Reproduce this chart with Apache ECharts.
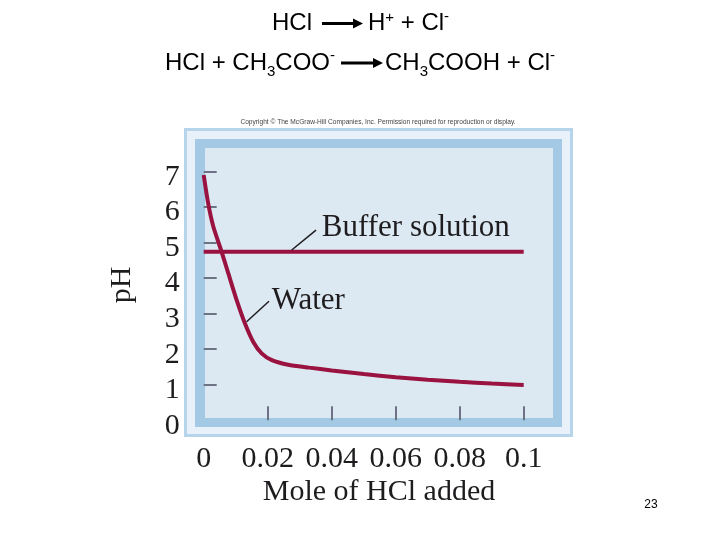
<!DOCTYPE html>
<html><head><meta charset="utf-8">
<script src="https://cdn.jsdelivr.net/npm/echarts@6/dist/echarts.min.js"></script>
<style>html,body{margin:0;padding:0;background:#fff}#c{width:720px;height:540px}</style>
</head><body><div id="c"></div>
<script>
// ---- data ----
const xTickValues = [0.02, 0.04, 0.06, 0.08, 0.1];
const xLabelValues = [0, 0.02, 0.04, 0.06, 0.08, 0.1];
const yTickValues = [1, 2, 3, 4, 5, 6, 7];
const yLabelValues = [0, 1, 2, 3, 4, 5, 6, 7];
const bufferX = [0, 0.1];
const bufferPH = [4.74, 4.74];
const waterX = [0, 0.0014, 0.003, 0.0056, 0.0077, 0.0103, 0.0129, 0.0155, 0.0181, 0.0213, 0.0264, 0.033, 0.04, 0.05, 0.06, 0.07, 0.08, 0.09, 0.1];
const waterPH = [6.9, 6.1, 5.45, 4.74, 4.13, 3.38, 2.72, 2.2, 1.88, 1.69, 1.56, 1.48, 1.4, 1.3, 1.21, 1.14, 1.08, 1.03, 0.99];
const seriesNames = ['Buffer solution', 'Water'];
const xName = 'Mole of HCl added';
const yName = 'pH';

const SERIF = '"Liberation Serif", "DejaVu Serif", serif';
const SANS = '"Liberation Sans", Arial, sans-serif';
const INK = '#1e1c1e';
const LINE = '#9a1340';

const chart = echarts.init(document.getElementById('c'), null, {renderer: 'canvas'});

const zip = (a, b) => a.map((v, i) => [v, b[i]]);

chart.setOption({
  animation: false,
  grid: {left: 203.7, right: 196.3, top: 171.5, bottom: 119.8, containLabel: false},
  xAxis: {
    type: 'value', min: 0, max: 0.1, interval: 0.02,
    axisLine: {show: false}, splitLine: {show: false},
    axisTick: {show: true, inside: true, length: 14, customValues: xTickValues,
      lineStyle: {color: '#6c7484', width: 2}},
    axisLabel: {margin: 24, fontFamily: SERIF, fontSize: 30, color: INK,
      customValues: xLabelValues, formatter: v => String(+(+v).toFixed(2))}
  },
  yAxis: {
    type: 'value', min: 0, max: 7, interval: 1,
    axisLine: {show: false}, splitLine: {show: false},
    axisTick: {show: true, inside: true, length: 13, customValues: yTickValues,
      lineStyle: {color: '#6c7484', width: 2}},
    axisLabel: {margin: 24, color: INK, customValues: yLabelValues,
      formatter: v => '{n|' + v + '}',
      rich: {n: {fontFamily: SERIF, fontSize: 30, color: INK, padding: [11, 0, 0, 0]}}}
  },
  series: [
    {name: seriesNames[0], type: 'line', data: zip(bufferX, bufferPH), showSymbol: false,
      lineStyle: {color: LINE, width: 4}, z: 5},
    {name: seriesNames[1], type: 'line', data: zip(waterX, waterPH), showSymbol: false,
      smooth: 0.25, lineStyle: {color: LINE, width: 4}, z: 5}
  ]
});

// ---- decorations ----
const P = (x, y) => chart.convertToPixel({gridIndex: 0}, [x, y]);
const g = [];
// frame
g.push({type: 'rect', z: -10, shape: {x: 184, y: 128, width: 389, height: 309}, style: {fill: '#b6d5eb'}});
g.push({type: 'rect', z: -9, shape: {x: 187, y: 131, width: 383, height: 303}, style: {fill: '#e8f1f9'}});
g.push({type: 'rect', z: -8, shape: {x: 195, y: 139, width: 367, height: 288}, style: {fill: '#a4c9e4'}});
g.push({type: 'rect', z: -7, shape: {x: 205, y: 148, width: 348, height: 270}, style: {fill: '#dce8f2'}});

// annotations
const bufLabel = P(0.0369, 5.4), bufA = P(0.0351, 5.35), bufB = P(0.0275, 4.79);
const watLabel = P(0.02125, 3.36), watA = P(0.0204, 3.35), watB = P(0.0134, 2.77);
g.push({type: 'line', z: 20, shape: {x1: bufA[0], y1: bufA[1], x2: bufB[0], y2: bufB[1]}, style: {stroke: INK, lineWidth: 1.5}});
g.push({type: 'line', z: 20, shape: {x1: watA[0], y1: watA[1], x2: watB[0], y2: watB[1]}, style: {stroke: INK, lineWidth: 1.5}});
g.push({type: 'text', z: 20, style: {text: seriesNames[0], x: bufLabel[0], y: bufLabel[1], font: '31px ' + SERIF, fill: INK, verticalAlign: 'middle'}});
g.push({type: 'text', z: 20, style: {text: seriesNames[1], x: watLabel[0], y: watLabel[1], font: '31px ' + SERIF, fill: INK, verticalAlign: 'middle'}});

// axis names
g.push({type: 'text', z: 20, style: {text: xName, x: 379, y: 492, font: '30px ' + SERIF, fill: INK, align: 'center', verticalAlign: 'middle'}});
g.push({type: 'text', z: 20, rotation: Math.PI / 2, x: 122, y: 285, style: {text: yName, x: 0, y: 0, font: '30px ' + SERIF, fill: INK, align: 'center', verticalAlign: 'middle'}});

// copyright line
g.push({type: 'text', z: 20, style: {text: 'Copyright \u00A9 The McGraw-Hill Companies, Inc. Permission required for reproduction or display.', x: 378, y: 122, font: '6.6px ' + SANS, fill: '#444', align: 'center', verticalAlign: 'middle'}});
// page number
g.push({type: 'text', z: 20, style: {text: '23', x: 651, y: 505, font: '12px ' + SANS, fill: '#000', align: 'center', verticalAlign: 'middle'}});

// equations
const ctx = document.createElement('canvas').getContext('2d');
function eq(x0, cy, pieces) {
  let x = x0;
  for (const p of pieces) {
    if (p.arrow) {
      const x2 = x + p.arrow;
      g.push({type: 'line', z: 20, shape: {x1: x, y1: cy, x2: x2 - 8, y2: cy}, style: {stroke: '#000', lineWidth: 3}});
      g.push({type: 'polygon', z: 20, shape: {points: [[x2 - 10, cy - 5], [x2, cy], [x2 - 10, cy + 5]]}, style: {fill: '#000'}});
      x = x2 + (p.gap || 0);
      continue;
    }
    const font = p.s + 'px ' + SANS;
    ctx.font = font;
    const w = ctx.measureText(p.t).width;
    g.push({type: 'text', z: 20, style: {text: p.t, x: x, y: cy + (p.dy || 0), font: font, fill: '#000', verticalAlign: 'middle'}});
    x += w + (p.gap || 0);
  }
}
const F = 24, S = 15;
eq(272, 23.5, [
  {t: 'HCl', s: F, gap: 10}, {arrow: 41, gap: 5},
  {t: 'H', s: F}, {t: '+', s: S, dy: -6}, {t: ' + Cl', s: F}, {t: '-', s: S, dy: -7}
]);
eq(165, 63, [
  {t: 'HCl + CH', s: F}, {t: '3', s: S, dy: 9}, {t: 'COO', s: F}, {t: '-', s: S, dy: -7, gap: 6},
  {arrow: 42, gap: 2},
  {t: 'CH', s: F}, {t: '3', s: S, dy: 9}, {t: 'COOH + Cl', s: F}, {t: '-', s: S, dy: -7}
]);

chart.setOption({graphic: {elements: g}});
</script>
</body></html>
